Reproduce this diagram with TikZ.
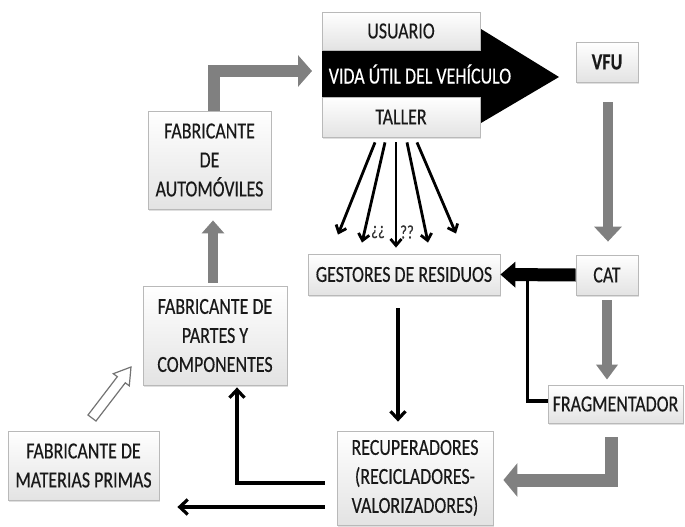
\documentclass[tikz,border=0pt]{standalone}
\usepackage{fontspec}
\setmainfont{Carlito}[FakeStretch=0.78, FakeBold=0.35]
\usetikzlibrary{arrows.meta,shadows,calc}
\begin{document}
\begin{tikzpicture}[x=1pt,y=-1pt,
  box/.style={draw=gray!55, line width=0.8pt, top color=white, bottom color=gray!22,
    drop shadow={shadow xshift=1pt,shadow yshift=-1.5pt,opacity=0.25},
    align=center, inner sep=0pt, font=\fontsize{23}{29}\selectfont, text=black!90},
  garrow/.style={draw=gray, line width=#1, line cap=butt, line join=miter},
  tarrow/.style={draw=black, line width=3.2pt, line join=miter, -{Straight Barb[length=8pt,width=15pt]}},
  farrow/.style={draw=black, line width=2.8pt, -{Straight Barb[length=6.5pt,width=11pt]}},
  hollow/.style={draw=gray!90!black, fill=white, line width=1.2pt, line join=miter}
]
\useasboundingbox (0,0) rectangle (685,527);

% big black arrow (drawn behind the boxes)
\coordinate (vidaW) at (322,73.5);
\coordinate (vidaTip) at (559,77);
\fill[black] (322,50) -- (481,50) -- (481,29) -- (vidaTip) -- (481,123) -- (481,97) -- (322,97) -- cycle;
\node[text=white, font=\fontsize{23}{29}\selectfont, inner sep=0pt] (vida) at (420,74) {VIDA ÚTIL DEL VEHÍCULO};

% boxes
\node[box, minimum width=158pt, minimum height=38pt] (usuario) at (401,31) {USUARIO};
\node[box, minimum width=158pt, minimum height=40pt] (taller) at (401,117) {TALLER};
\node[box, minimum width=62pt, minimum height=40pt, font=\fontsize{23}{29}\selectfont\bfseries] (vfu) at (607,62) {VFU};
\node[box, minimum width=123pt, minimum height=98pt] (autom) at (209.5,160) {FABRICANTE\\DE\\AUTOMÓVILES};
\node[box, minimum width=144pt, minimum height=99pt] (partes) at (215,335.5) {FABRICANTE DE\\PARTES Y\\COMPONENTES};
\node[box, minimum width=192pt, minimum height=41pt] (gestores) at (404,274.5) {GESTORES DE RESIDUOS};
\node[box, minimum width=62pt, minimum height=40pt] (cat) at (607,275) {CAT};
\node[box, minimum width=135pt, minimum height=38pt] (frag) at (615.5,404) {FRAGMENTADOR};
\node[box, minimum width=156pt, minimum height=94pt] (recup) at (415,478) {RECUPERADORES\\(RECICLADORES-\\VALORIZADORES)};
\node[box, minimum width=151pt, minimum height=69pt] (materias) at (83.5,465.5) {FABRICANTE DE\\MATERIAS PRIMAS};

% grey block arrows
\draw[garrow=12pt, -{Triangle[length=14pt,width=31pt]}] ($(autom.north)+(4.5,0)$) |- ($(vidaW)+(-10,-2.5)$);
\draw[garrow=10pt, -{Triangle[length=13pt,width=22pt]}] ($(partes.north)+(-2,-3)$) -- ($(autom.south)+(3.5,11)$);
\draw[garrow=10pt, -{Triangle[length=15pt,width=27pt]}] ($(vfu.south)+(1,20)$) -- ($(cat.north)+(1,-13)$);
\draw[garrow=10pt, -{Triangle[length=15pt,width=21pt]}] ($(cat.south)+(0,5)$) -- ($(cat.south |- frag.north)+(0,-5)$);
\draw[garrow=13pt, -{Triangle[length=14pt,width=33pt]}] ($(frag.south)+(-4.5,14)$) |- ($(recup.east)+(10,2)$);

% black arrows
\draw[black, line width=13pt, -{Triangle[length=15pt,width=25pt]}] (cat.west) -- (gestores.east);
\draw[black, line width=3.2pt, line join=miter] ($(frag.west)+(0,-3)$) -| ($(gestores.east)+(27,0)$);
\draw[tarrow] ($(gestores.south)+(-6,13)$) -- ($(recup.north)+(-17,-9)$);
\draw[tarrow] ($(recup.west)+(-12,5)$) -| ($(partes.south)+(22,2)$);
\draw[tarrow] ($(recup.west)+(-12,29)$) -- ($(materias.east)+(18,41.5)$);

% fan of arrows from TALLER
\draw[farrow] ($(taller.south)+(-26,5)$) -- ($(gestores.north)+(-66,-19)$);
\draw[farrow] ($(taller.south)+(-16,5)$) -- ($(gestores.north)+(-42,-11)$);
\draw[farrow] ($(taller.south)+(-5,5)$) -- ($(gestores.north)+(-8,-6)$);
\draw[farrow] ($(taller.south)+(6,5)$) -- ($(gestores.north)+(24,-11)$);
\draw[farrow] ($(taller.south)+(16,5)$) -- ($(gestores.north)+(52,-20)$);
\node[font=\fontsize{19}{20}\selectfont, text=black!80, inner sep=0pt] (q1) at (378,232) {¿¿};
\node[font=\fontsize{19}{20}\selectfont, text=black!80, inner sep=0pt] (q2) at (407,232) {??};

% hollow arrow from raw materials to parts
\coordinate (hT1) at (96.0,421.0);
\coordinate (hT2) at (88.0,415.0);
\coordinate (hTip) at (131,367);
\draw[hollow] (hT1) -- (125.3,382.8) -- (129.3,385.8) -- (hTip) -- (113.3,373.7) -- (117.3,376.7) -- (hT2) -- cycle;
\end{tikzpicture}
\end{document}
